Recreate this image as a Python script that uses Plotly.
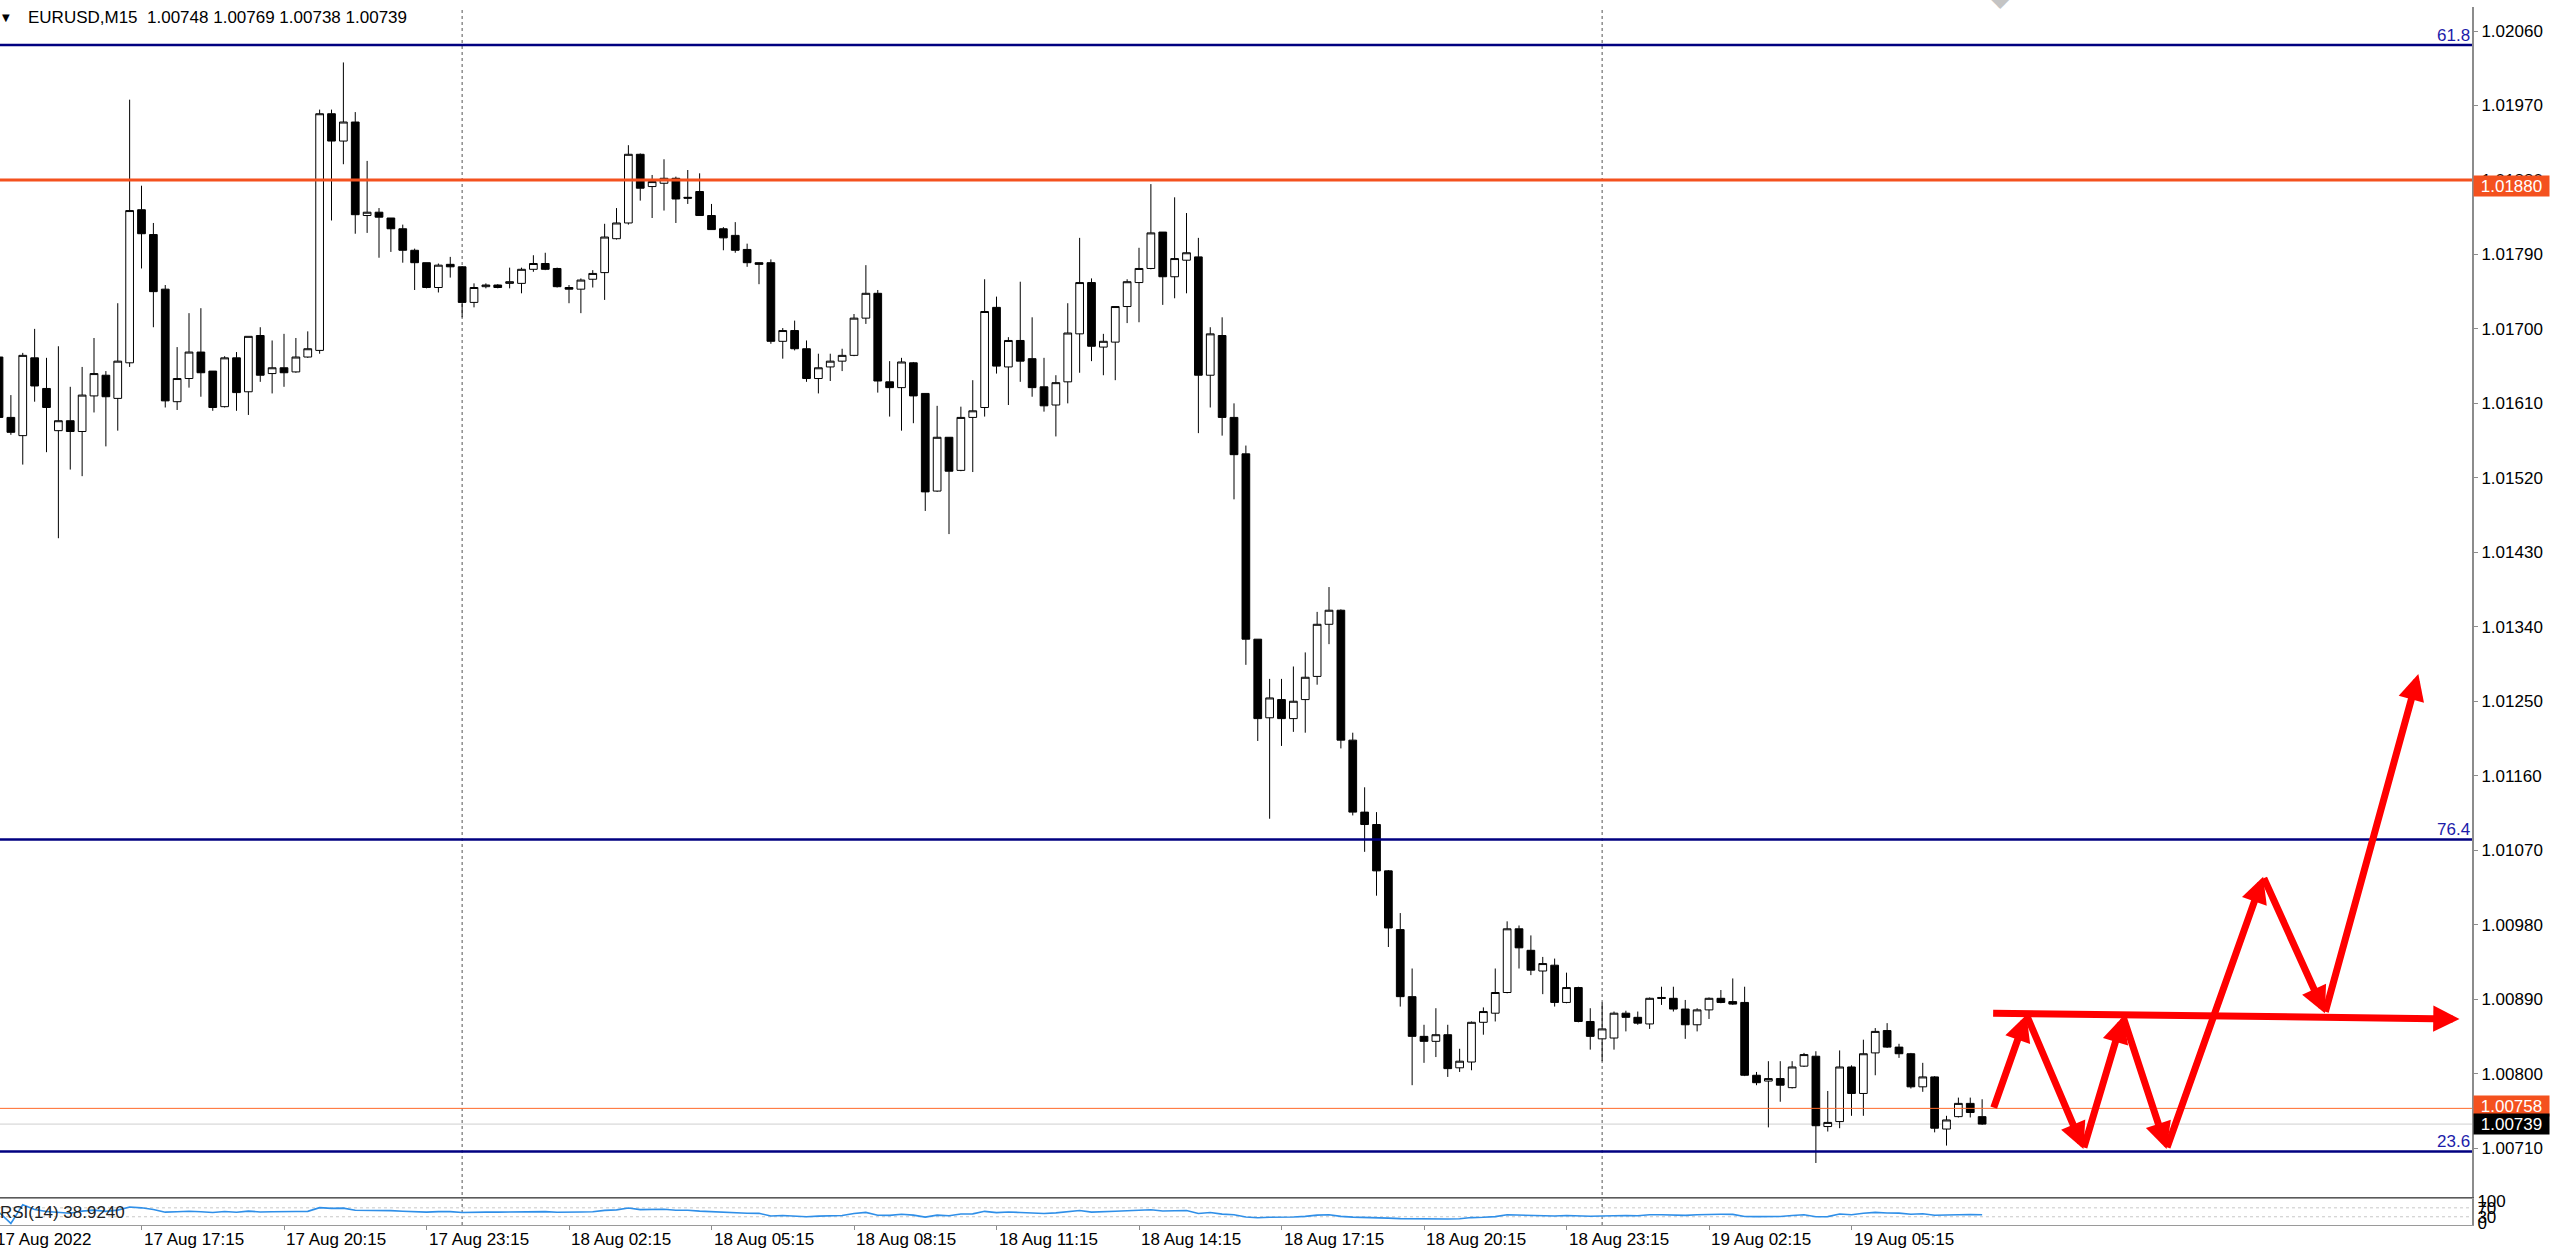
import numpy as np
import pandas as pd
import plotly.graph_objects as go

# ---------------- data ----------------
title_text = "EURUSD,M15  1.00748 1.00769 1.00738 1.00739"
start_time = "2022-08-17 14:15"

opens = [1.01666, 1.01593, 1.01571, 1.01665, 1.01628, 1.01577, 1.01589, 1.01576, 1.01619, 1.01644,
         1.01616, 1.01659, 1.01844, 1.01814, 1.01748, 1.01612, 1.01640, 1.01672, 1.01649, 1.01606,
         1.01665, 1.01624, 1.01692, 1.01646, 1.01653, 1.01648, 1.01666, 1.01674, 1.01960, 1.01927,
         1.01950, 1.01837, 1.01841, 1.01834, 1.01821, 1.01795, 1.01780, 1.01750, 1.01778, 1.01775,
         1.01732, 1.01751, 1.01753, 1.01755, 1.01755, 1.01772, 1.01779, 1.01773, 1.01750, 1.01748,
         1.01760, 1.01768, 1.01809, 1.01828, 1.01911, 1.01872, 1.01876, 1.01882, 1.01859, 1.01866,
         1.01837, 1.01821, 1.01813, 1.01796, 1.01780, 1.01780, 1.01685, 1.01698, 1.01676, 1.01640,
         1.01654, 1.01661, 1.01668, 1.01713, 1.01743, 1.01636, 1.01629, 1.01659, 1.01622, 1.01504,
         1.01569, 1.01529, 1.01593, 1.01605, 1.01726, 1.01654, 1.01686, 1.01664, 1.01630, 1.01608,
         1.01636, 1.01694, 1.01756, 1.01678, 1.01684, 1.01727, 1.01756, 1.01773, 1.01817, 1.01763,
         1.01783, 1.01787, 1.01644, 1.01692, 1.01593, 1.01549, 1.01325, 1.01230, 1.01252, 1.01229,
         1.01252, 1.01280, 1.01343, 1.01360, 1.01203, 1.01116, 1.01101, 1.01045, 1.00974, 1.00893,
         1.00845, 1.00839, 1.00847, 1.00807, 1.00814, 1.00862, 1.00873, 1.00898, 1.00975, 1.00949,
         1.00924, 1.00931, 1.00886, 1.00904, 1.00863, 1.00842, 1.00843, 1.00873, 1.00868, 1.00860,
         1.00892, 1.00891, 1.00878, 1.00859, 1.00877, 1.00891, 1.00887, 1.00886, 1.00798, 1.00791,
         1.00794, 1.00783, 1.00809, 1.00821, 1.00736, 1.00742, 1.00808, 1.00776, 1.00825, 1.00852,
         1.00832, 1.00824, 1.00784, 1.00796, 1.00733, 1.00748, 1.00764, 1.00748]
highs = [1.01680, 1.01620, 1.01671, 1.01700, 1.01665, 1.01679, 1.01630, 1.01654, 1.01689, 1.01649,
         1.01731, 1.01977, 1.01873, 1.01828, 1.01753, 1.01678, 1.01719, 1.01725, 1.01649, 1.01667,
         1.01672, 1.01691, 1.01702, 1.01686, 1.01694, 1.01689, 1.01697, 1.01965, 1.01965, 1.02022,
         1.01962, 1.01903, 1.01846, 1.01834, 1.01826, 1.01797, 1.01780, 1.01779, 1.01787, 1.01776,
         1.01755, 1.01755, 1.01754, 1.01774, 1.01774, 1.01789, 1.01792, 1.01774, 1.01753, 1.01761,
         1.01771, 1.01827, 1.01846, 1.01922, 1.01912, 1.01886, 1.01905, 1.01884, 1.01892, 1.01888,
         1.01851, 1.01823, 1.01829, 1.01803, 1.01780, 1.01784, 1.01701, 1.01710, 1.01686, 1.01670,
         1.01670, 1.01676, 1.01718, 1.01777, 1.01747, 1.01661, 1.01665, 1.01660, 1.01622, 1.01607,
         1.01569, 1.01606, 1.01638, 1.01760, 1.01739, 1.01690, 1.01757, 1.01714, 1.01665, 1.01644,
         1.01731, 1.01810, 1.01761, 1.01694, 1.01727, 1.01760, 1.01798, 1.01875, 1.01817, 1.01859,
         1.01840, 1.01810, 1.01702, 1.01714, 1.01610, 1.01559, 1.01325, 1.01277, 1.01277, 1.01292,
         1.01309, 1.01358, 1.01388, 1.01361, 1.01212, 1.01146, 1.01116, 1.01046, 1.00994, 1.00927,
         1.00859, 1.00879, 1.00859, 1.00830, 1.00863, 1.00880, 1.00927, 1.00984, 1.00979, 1.00967,
         1.00941, 1.00939, 1.00922, 1.00905, 1.00879, 1.00886, 1.00875, 1.00876, 1.00875, 1.00892,
         1.00905, 1.00905, 1.00889, 1.00879, 1.00892, 1.00901, 1.00915, 1.00905, 1.00802, 1.00815,
         1.00815, 1.00815, 1.00825, 1.00827, 1.00779, 1.00828, 1.00810, 1.00841, 1.00855, 1.00861,
         1.00836, 1.00825, 1.00813, 1.00797, 1.00749, 1.00771, 1.00771, 1.00769]
lows = [1.01584, 1.01572, 1.01536, 1.01612, 1.01551, 1.01447, 1.01530, 1.01522, 1.01599, 1.01558,
        1.01577, 1.01654, 1.01773, 1.01702, 1.01605, 1.01602, 1.01629, 1.01618, 1.01601, 1.01605,
        1.01601, 1.01596, 1.01636, 1.01622, 1.01630, 1.01647, 1.01665, 1.01670, 1.01831, 1.01899,
        1.01815, 1.01816, 1.01786, 1.01793, 1.01780, 1.01747, 1.01749, 1.01744, 1.01762, 1.01714,
        1.01726, 1.01749, 1.01749, 1.01749, 1.01743, 1.01769, 1.01771, 1.01750, 1.01731, 1.01719,
        1.01750, 1.01735, 1.01808, 1.01826, 1.01855, 1.01834, 1.01843, 1.01828, 1.01851, 1.01837,
        1.01820, 1.01795, 1.01792, 1.01775, 1.01754, 1.01682, 1.01664, 1.01674, 1.01636, 1.01622,
        1.01637, 1.01649, 1.01667, 1.01706, 1.01623, 1.01594, 1.01577, 1.01586, 1.01480, 1.01503,
        1.01452, 1.01528, 1.01527, 1.01594, 1.01646, 1.01608, 1.01636, 1.01618, 1.01600, 1.01570,
        1.01610, 1.01647, 1.01661, 1.01644, 1.01638, 1.01707, 1.01708, 1.01772, 1.01729, 1.01737,
        1.01743, 1.01574, 1.01605, 1.01571, 1.01494, 1.01294, 1.01202, 1.01108, 1.01196, 1.01213,
        1.01212, 1.01270, 1.01319, 1.01193, 1.01112, 1.01068, 1.01015, 1.00953, 1.00881, 1.00786,
        1.00813, 1.00820, 1.00796, 1.00802, 1.00804, 1.00847, 1.00863, 1.00897, 1.00927, 1.00919,
        1.00896, 1.00881, 1.00885, 1.00862, 1.00829, 1.00815, 1.00829, 1.00851, 1.00859, 1.00854,
        1.00883, 1.00875, 1.00842, 1.00851, 1.00866, 1.00885, 1.00883, 1.00797, 1.00786, 1.00735,
        1.00766, 1.00782, 1.00808, 1.00692, 1.00730, 1.00734, 1.00749, 1.00749, 1.00798, 1.00831,
        1.00819, 1.00782, 1.00778, 1.00729, 1.00713, 1.00747, 1.00747, 1.00738]
closes = [1.01593, 1.01575, 1.01668, 1.01631, 1.01605, 1.01589, 1.01576, 1.01620, 1.01646, 1.01618,
          1.01661, 1.01843, 1.01815, 1.01745, 1.01613, 1.01640, 1.01672, 1.01647, 1.01605, 1.01665,
          1.01623, 1.01691, 1.01644, 1.01653, 1.01647, 1.01666, 1.01676, 1.01960, 1.01927, 1.01950,
          1.01838, 1.01841, 1.01835, 1.01821, 1.01795, 1.01780, 1.01750, 1.01777, 1.01775, 1.01732,
          1.01750, 1.01753, 1.01750, 1.01757, 1.01772, 1.01779, 1.01772, 1.01751, 1.01748, 1.01759,
          1.01767, 1.01811, 1.01828, 1.01911, 1.01870, 1.01878, 1.01882, 1.01857, 1.01858, 1.01837,
          1.01820, 1.01810, 1.01795, 1.01780, 1.01778, 1.01685, 1.01698, 1.01676, 1.01640, 1.01653,
          1.01661, 1.01668, 1.01713, 1.01743, 1.01637, 1.01629, 1.01660, 1.01619, 1.01503, 1.01569,
          1.01528, 1.01593, 1.01601, 1.01721, 1.01655, 1.01686, 1.01661, 1.01629, 1.01607, 1.01635,
          1.01695, 1.01756, 1.01679, 1.01685, 1.01727, 1.01757, 1.01773, 1.01816, 1.01763, 1.01785,
          1.01792, 1.01644, 1.01694, 1.01593, 1.01548, 1.01325, 1.01229, 1.01254, 1.01229, 1.01250,
          1.01279, 1.01343, 1.01360, 1.01203, 1.01116, 1.01101, 1.01045, 1.00976, 1.00893, 1.00845,
          1.00839, 1.00847, 1.00806, 1.00815, 1.00862, 1.00875, 1.00898, 1.00975, 1.00952, 1.00925,
          1.00933, 1.00886, 1.00904, 1.00863, 1.00845, 1.00854, 1.00873, 1.00868, 1.00861, 1.00891,
          1.00891, 1.00878, 1.00859, 1.00877, 1.00891, 1.00886, 1.00884, 1.00798, 1.00789, 1.00794,
          1.00786, 1.00808, 1.00823, 1.00737, 1.00741, 1.00808, 1.00776, 1.00824, 1.00851, 1.00832,
          1.00824, 1.00784, 1.00796, 1.00734, 1.00744, 1.00764, 1.00753, 1.00739]

price_ticks = [1.02060, 1.01970, 1.01880, 1.01790, 1.01700, 1.01610, 1.01520, 1.01430,
               1.01340, 1.01250, 1.01160, 1.01070, 1.00980, 1.00890, 1.00800, 1.00710]

level_names = ["61.8", "76.4", "23.6"]
level_prices = [1.02043, 1.01083, 1.00706]
resistance_price = 1.01880
ask_price = 1.00758
bid_price = 1.00739

separator_times = ["2022-08-18 00:00", "2022-08-19 00:00"]
time_tick_times = ["2022-08-17 14:15", "2022-08-17 17:15", "2022-08-17 20:15", "2022-08-17 23:15",
                   "2022-08-18 02:15", "2022-08-18 05:15", "2022-08-18 08:15", "2022-08-18 11:15",
                   "2022-08-18 14:15", "2022-08-18 17:15", "2022-08-18 20:15", "2022-08-18 23:15",
                   "2022-08-19 02:15", "2022-08-19 05:15"]
time_tick_labels = ["17 Aug 2022", "17 Aug 17:15", "17 Aug 20:15", "17 Aug 23:15",
                    "18 Aug 02:15", "18 Aug 05:15", "18 Aug 08:15", "18 Aug 11:15",
                    "18 Aug 14:15", "18 Aug 17:15", "18 Aug 20:15", "18 Aug 23:15",
                    "19 Aug 02:15", "19 Aug 05:15"]

zigzag_times = ["2022-08-19 08:14", "2022-08-19 08:56", "2022-08-19 10:08", "2022-08-19 10:58",
                "2022-08-19 11:53", "2022-08-19 13:55", "2022-08-19 15:13", "2022-08-19 17:11"]
zigzag_prices = [1.00757, 1.00871, 1.00709, 1.00869, 1.00709, 1.01038, 1.00873, 1.01283]
hline_arrow_times = ["2022-08-19 08:12", "2022-08-19 18:03"]
hline_arrow_prices = [1.00873, 1.00866]

rsi_period = 14
rsi_label = "RSI(14) 38.9240"
rsi_levels = [70, 30]
rsi_tick_vals = [100, 70, 30, 0]

# ---------------- geometry / style ----------------
W, H = 2560, 1252
PLOT_R = 2472          # x of the price axis line
MAIN_BOTTOM = 1197
RSI_TOP = 1199
RSI_BOTTOM = 1225
PX_PER_BAR = 11.875
FIRST_BAR_PX = -1
PX_PER_PRICE = 83222.0
TOP_PRICE = 1.020890
FONT = "Liberation Sans"

times = pd.date_range(start_time, periods=len(opens), freq="15min")
bar = pd.Timedelta(minutes=15)
x_left = times[0] + bar * ((0 - FIRST_BAR_PX) / PX_PER_BAR)
x_right = times[0] + bar * ((PLOT_R - FIRST_BAR_PX) / PX_PER_BAR)
y_bottom = TOP_PRICE - MAIN_BOTTOM / PX_PER_PRICE


def wilder_rsi(c, n):
    c = np.asarray(c, dtype=float)
    d = np.diff(c, prepend=c[0])
    gain = np.clip(d, 0, None)
    loss = np.clip(-d, 0, None)
    ag = np.zeros(len(c))
    al = np.zeros(len(c))
    for i in range(len(c)):
        if i < n:
            ag[i] = gain[: i + 1].mean()
            al[i] = loss[: i + 1].mean()
        else:
            ag[i] = (ag[i - 1] * (n - 1) + gain[i]) / n
            al[i] = (al[i - 1] * (n - 1) + loss[i]) / n
    tot = ag + al
    return np.where(tot > 0, 100 * ag / np.where(tot > 0, tot, 1), 50.0)


rsi = wilder_rsi(closes, rsi_period)

fig = go.Figure()
fig.add_trace(go.Candlestick(
    x=times, open=opens, high=highs, low=lows, close=closes,
    increasing=dict(line=dict(color="black", width=1), fillcolor="white"),
    decreasing=dict(line=dict(color="black", width=1), fillcolor="black"),
    whiskerwidth=0, showlegend=False, hoverinfo="x+y",
    xaxis="x", yaxis="y"))
fig.add_trace(go.Scatter(
    x=times, y=rsi, mode="lines", line=dict(color="#2f8fe8", width=1.6),
    showlegend=False, xaxis="x2", yaxis="y2", hoverinfo="skip"))

plot_h = RSI_BOTTOM
main_dom = [(plot_h - MAIN_BOTTOM) / plot_h, 1]
rsi_dom = [0, (plot_h - RSI_TOP) / plot_h]

tickfont = dict(family=FONT, size=17, color="black")
fig.update_layout(
    width=W, height=H, autosize=False,
    margin=dict(l=0, r=W - PLOT_R, t=0, b=H - RSI_BOTTOM, pad=0),
    paper_bgcolor="white", plot_bgcolor="white",
    showlegend=False, hovermode=False,
    boxgap=0.35, boxgroupgap=0,
    font=dict(family=FONT, size=17, color="black"),
    xaxis=dict(domain=[0, 1], range=[x_left, x_right], anchor="y", type="date",
               rangeslider=dict(visible=False), showticklabels=False, ticks="",
               showgrid=False, zeroline=False, showline=True, linecolor="#5a5a5a",
               linewidth=2),
    yaxis=dict(domain=main_dom, range=[y_bottom, TOP_PRICE], anchor="x", side="right",
               tickvals=price_ticks, ticktext=[f"{v:.5f}" for v in price_ticks],
               ticks="outside", ticklen=4, tickcolor="#8c8c8c", tickwidth=1,
               showline=True, linecolor="#8c8c8c", linewidth=2, showgrid=False,
               zeroline=False, tickfont=tickfont),
    xaxis2=dict(domain=[0, 1], matches="x", anchor="y2", type="date",
                tickvals=time_tick_times, showticklabels=False, ticks="outside",
                ticklen=4, tickcolor="#8c8c8c", showgrid=False, zeroline=False,
                showline=True, mirror=True, linecolor="#9a9a9a", linewidth=1),
    yaxis2=dict(domain=rsi_dom, range=[-7, 109], anchor="x2", side="right",
                tickvals=rsi_tick_vals, ticktext=[str(v) for v in rsi_tick_vals],
                ticks="", showline=True, linecolor="#8c8c8c", linewidth=2,
                showgrid=False, zeroline=False, tickfont=tickfont),
)

shapes = []
for t in separator_times:
    shapes.append(dict(type="line", xref="x", yref="paper", x0=t, x1=t, y0=0, y1=1,
                       line=dict(color="#555555", width=1, dash="dot"), layer="below"))
for lv in rsi_levels:
    shapes.append(dict(type="line", xref="paper", yref="y2", x0=0, x1=1, y0=lv, y1=lv,
                       line=dict(color="#c8c8c8", width=1, dash="dot"), layer="below"))
shapes.append(dict(type="line", xref="paper", yref="y", x0=0, x1=1, y0=bid_price, y1=bid_price,
                   line=dict(color="#cfcfcf", width=1), layer="below"))
shapes.append(dict(type="line", xref="paper", yref="y", x0=0, x1=1, y0=ask_price, y1=ask_price,
                   line=dict(color="#ff6a2a", width=1)))
shapes.append(dict(type="line", xref="paper", yref="y", x0=0, x1=1, y0=resistance_price,
                   y1=resistance_price, line=dict(color="#f4511e", width=3)))
for p in level_prices:
    shapes.append(dict(type="line", xref="paper", yref="y", x0=0, x1=1, y0=p, y1=p,
                       line=dict(color="#000080", width=2.5)))
fig.update_layout(shapes=shapes)

ann = []
# title
ann.append(dict(xref="paper", yref="paper", x=0, y=1, xanchor="left", yanchor="top",
                xshift=26, yshift=1, text=title_text, showarrow=False,
                font=dict(family=FONT, size=17, color="black")))
ann.append(dict(xref="paper", yref="paper", x=0, y=1, xanchor="left", yanchor="top",
                xshift=0, yshift=-3, text="▼", showarrow=False,
                font=dict(family="DejaVu Sans", size=10, color="black")))
# chart-shift marker (half hidden above the top edge)
ann.append(dict(xref="paper", yref="paper", x=2000 / PLOT_R, y=1, xanchor="center",
                yanchor="middle", yshift=9, text="◆", showarrow=False,
                font=dict(family="DejaVu Sans", size=24, color="#c4c4c4")))
# level labels
for name, p in zip(level_names, level_prices):
    ann.append(dict(xref="paper", yref="y", x=1, y=p, xanchor="right", yanchor="bottom",
                    yshift=-2, text=name, showarrow=False,
                    font=dict(family=FONT, size=17, color="#1c1caa")))
# price boxes on axis
ann.append(dict(xref="paper", yref="y", x=1, y=resistance_price, xanchor="left",
                yanchor="middle", xshift=1, yshift=-6, text=f"{resistance_price:.5f}",
                showarrow=False, bgcolor="#f4511e", width=75, height=20, borderpad=0,
                align="center", font=dict(family=FONT, size=17, color="white")))
ann.append(dict(xref="paper", yref="y", x=1, y=ask_price, xanchor="left",
                yanchor="middle", xshift=1, yshift=2, text=f"{ask_price:.5f}",
                showarrow=False, bgcolor="#f4511e", width=75, height=20, borderpad=0,
                align="center", font=dict(family=FONT, size=17, color="white")))
ann.append(dict(xref="paper", yref="y", x=1, y=bid_price, xanchor="left",
                yanchor="middle", xshift=1, yshift=0, text=f"{bid_price:.5f}",
                showarrow=False, bgcolor="black", width=75, height=20, borderpad=0,
                align="center", font=dict(family=FONT, size=17, color="white")))
# time labels (first one sits at the very left edge, partly cut like the reference)
for k, (t, lab) in enumerate(zip(time_tick_times, time_tick_labels)):
    if k == 0:
        ann.append(dict(xref="paper", yref="paper", x=0, y=0, xanchor="left", yanchor="top",
                        xshift=-6, yshift=-3, text=lab, showarrow=False,
                        font=dict(family=FONT, size=17, color="black")))
    else:
        ann.append(dict(xref="x2", yref="paper", x=t, y=0, xanchor="left", yanchor="top",
                        xshift=0, yshift=-3, text=lab, showarrow=False,
                        font=dict(family=FONT, size=17, color="black")))
# RSI label
ann.append(dict(xref="paper", yref="paper", x=0, y=(plot_h - 1212.7) / plot_h,
                xanchor="left", yanchor="middle", xshift=-2, text=rsi_label,
                showarrow=False, font=dict(family=FONT, size=17, color="#222222")))
# red arrows
red = "#ff0000"
for k in range(len(zigzag_times) - 1):
    ann.append(dict(xref="x", yref="y", axref="x", ayref="y",
                    x=zigzag_times[k + 1], y=zigzag_prices[k + 1],
                    ax=zigzag_times[k], ay=zigzag_prices[k],
                    text="", showarrow=True, arrowhead=2, arrowsize=0.75,
                    arrowwidth=7, arrowcolor=red, standoff=0))
ann.append(dict(xref="x", yref="y", axref="x", ayref="y",
                x=hline_arrow_times[1], y=hline_arrow_prices[1],
                ax=hline_arrow_times[0], ay=hline_arrow_prices[0],
                text="", showarrow=True, arrowhead=2, arrowsize=0.75,
                arrowwidth=7, arrowcolor=red, standoff=0))
fig.update_layout(annotations=ann)

fig.write_html("out.html", include_plotlyjs=True,
               config={"displayModeBar": False},
               post_script="document.body.style.margin='0';document.body.style.overflow='hidden';")
